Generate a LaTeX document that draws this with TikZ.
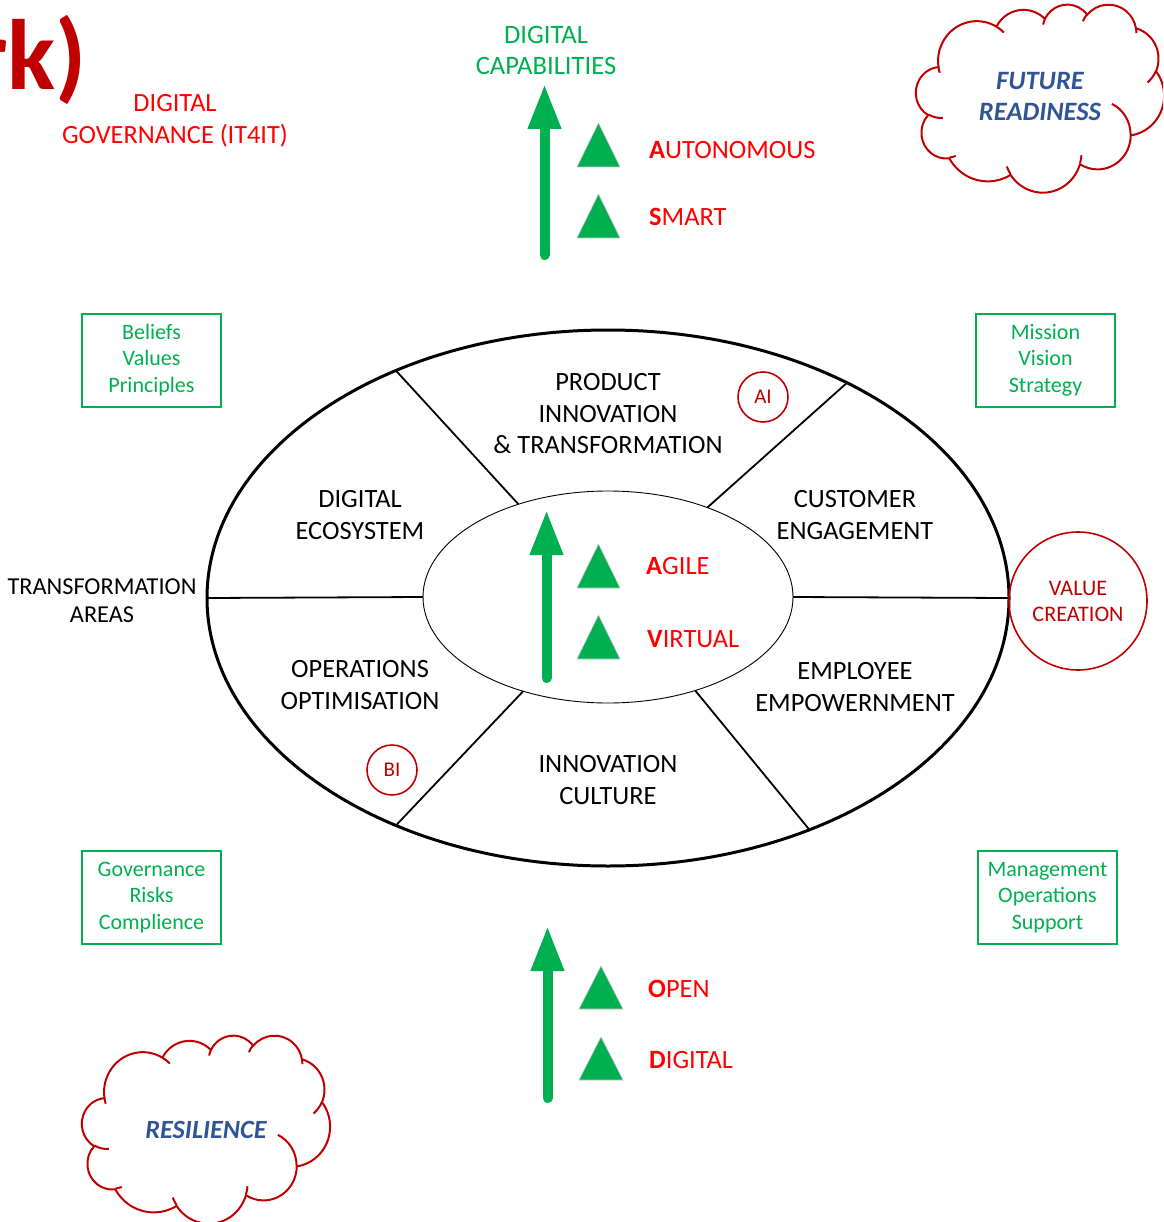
\documentclass[tikz,border=0pt]{standalone}
\usepackage{fontspec}
\setmainfont{Carlito}
\usetikzlibrary{arrows.meta,shapes.geometric}

\definecolor{gr}{HTML}{00B050}
\definecolor{dred}{HTML}{C00000}
\definecolor{brd}{HTML}{FF0000}
\definecolor{cblue}{HTML}{2F5597}

\newcommand\fsz[2]{\fontsize{#1}{#2}\selectfont}

% scale of the cloud outline (path space 432 x 432 -> 248 x 188)
\def\csx{0.57407}
\def\csy{0.43519}

\tikzset{
  lbl/.style={align=center, inner sep=0, text=black, font=\fsz{26.4}{31.5}},
  gbox/.style={draw=gr, line width=2pt, text=gr, align=center, inner sep=0,
    minimum width=139pt, minimum height=93pt, font=\fsz{22}{26.5}},
  ring/.style={circle, draw=dred, line width=1.6pt, text=dred, inner sep=0,
    minimum size=50pt, font=\fsz{21}{24}},
  level/.style={anchor=base west, inner sep=0, text=brd, font=\fsz{26.4}{30}},
  tri/.style={fill=gr, draw=black!22, line width=0.6pt},
  uparrow/.style={draw=gr, line width=10pt, line cap=round,
    -{Triangle[length=45pt, width=31pt]}},
  spoke/.style={draw=black, line width=1.8pt},
  cloudline/.style={draw=dred, line width=2pt, line join=round},
  % elliptic arc given by radii and visual start/sweep angles (y pointing down)
  ooarc/.style n args={4}{
    x radius={#1*\csx*1pt}, y radius={#2*\csy*1pt},
    start angle={-atan2(#1*sin(#3),#2*cos(#3))},
    delta angle={-mod(atan2(#1*sin(#3+#4),#2*cos(#3+#4))-atan2(#1*sin(#3),#2*cos(#3))+720,360)}}
}

% cloud outline with its inner folds; #1,#2 = top left corner
\newcommand\cloudat[2]{%
  \draw[cloudline] ({#1+39.00*\csx},{#2+143.70*\csy})
    arc[ooarc={67.53}{91.90}{-190.4875}{123.7805}]
    arc[ooarc={53.33}{72.67}{-144.1024}{89.9452}]
    arc[ooarc={43.65}{59.45}{-145.8079}{99.7230}]
    arc[ooarc={48.57}{65.95}{-130.9861}{117.2417}]
    arc[ooarc={53.33}{72.73}{-78.7089}{109.0269}]
    arc[ooarc={67.75}{92.20}{-46.2673}{130.2690}]
    arc[ooarc={57.85}{78.67}{0.6250}{114.0333}]
    arc[ooarc={67.52}{92.15}{22.4516}{115.1726}]
    arc[ooarc={77.20}{105.43}{66.2426}{75.7110}]
    arc[ooarc={43.60}{59.18}{-274.9421}{146.7356}]
    arc[ooarc={43.45}{59.45}{-246.8285}{152.5189}] -- cycle;
  \draw[cloudline]
    ({#1+46.93*\csx},{#2+261.77*\csy}) arc[ooarc={43.45}{59.45}{86.7420}{26.4295}]
    ({#1+69.28*\csx},{#2+348.99*\csy}) arc[ooarc={43.60}{59.18}{73.6105}{11.4475}]
    ({#1+164.78*\csx},{#2+390.90*\csy}) arc[ooarc={67.52}{92.15}{137.6242}{14.0811}]
    ({#1+288.27*\csx},{#2+347.51*\csy}) arc[ooarc={67.52}{92.15}{6.4533}{15.9984}]
    ({#1+341.29*\csx},{#2+229.54*\csy}) arc[ooarc={57.85}{78.67}{-70.2924}{70.9174}]
    ({#1+417.98*\csx},{#2+153.54*\csy}) arc[ooarc={53.33}{72.73}{30.3180}{27.7515}]
    ({#1+383.24*\csx},{#2+54.26*\csy}) arc[ooarc={48.57}{65.95}{-13.7443}{14.8589}]
    ({#1+290.78*\csx},{#2+39.52*\csy}) arc[ooarc={48.57}{65.95}{-149.1815}{18.1954}]
    ({#1+221.41*\csx},{#2+47.20*\csy}) arc[ooarc={43.65}{59.45}{-163.4943}{17.6864}]
    ({#1+140.00*\csx},{#2+51.92*\csy}) arc[ooarc={67.53}{91.90}{-66.7070}{12.3194}]
    ({#1+41.27*\csx},{#2+157.89*\csy}) arc[ooarc={67.53}{91.90}{157.6544}{11.8582}];
}

\begin{document}
\begin{tikzpicture}[x=1pt, y=-1pt]
\path[use as bounding box, clip] (0,0) rectangle (1163,1222);
\fill[white] (0,0) rectangle (1163,1222);

% title fragment
\node[anchor=base east, inner sep=0, text=dred, font=\fsz{100}{100}\bfseries] (brand) at (87,90) {rk)};

% top labels
\node[lbl, text=brd, font=\fsz{26.3}{32}] (gov) at (175,121) {DIGITAL\\GOVERNANCE (IT4IT)};
\node[lbl, text=gr, font=\fsz{26.6}{31}] (caps) at (546,50) {DIGITAL\\CAPABILITIES};

% clouds
\cloudat{916}{4}
\node[lbl, text=cblue, font=\fsz{26.5}{31}\bfseries\itshape] (future) at (1040,97) {FUTURE\\READINESS};
\cloudat{82}{1035}
\node[lbl, text=cblue, font=\fsz{26.3}{31}\bfseries\itshape] (resil) at (206,1130) {RESILIENCE};

% green boxes
\node[gbox] (bvp) at (151.5,360) {Beliefs\\Values\\Principles};
\node[gbox] (mvs) at (1045.5,360) {Mission\\Vision\\Strategy};
\node[gbox] (grc) at (151.5,897.5) {Governance\\Risks\\Complience};
\node[gbox] (mos) at (1047.5,897.5) {Management\\Operations\\Support};

% the wheel of transformation areas
\node[ellipse, draw, line width=3pt, minimum width=802pt, minimum height=536pt,
      inner sep=0, outer sep=0] (outer) at (608,598) {};
\node[ellipse, draw, line width=0.9pt, minimum width=370pt, minimum height=212pt,
      inner sep=0, outer sep=0] (inner) at (608,597) {};
\draw[spoke] (outer.180) -- (inner.180);
\draw[spoke] (outer.0) -- (inner.0);
\draw[spoke] (outer.133.7) -- (inner.134.4);
\draw[spoke] (outer.42.3) -- (inner.42);
\draw[spoke] (outer.227.6) -- (inner.228.8);
\draw[spoke] (outer.311.6) -- (inner.313.5);

\node[lbl] (prod) at (608,414) {PRODUCT\\INNOVATION\\\& TRANSFORMATION};
\node[lbl] (eco) at (360,515) {DIGITAL\\ECOSYSTEM};
\node[lbl] (cust) at (855,515) {CUSTOMER\\ENGAGEMENT};
\node[lbl] (ops) at (360,685) {OPERATIONS\\OPTIMISATION};
\node[lbl] (emp) at (855,687) {EMPLOYEE\\EMPOWERNMENT};
\node[lbl] (cult) at (608,780) {INNOVATION\\CULTURE};
\node[ring] (ai) at (763,397) {AI};
\node[ring] (bi) at (392,770) {BI};

\node[lbl, font=\fsz{24.3}{28}] (tarea) at (102,601) {TRANSFORMATION\\AREAS};
\node[circle, draw=dred, line width=1.6pt, minimum size=138pt, inner sep=0,
      text=dred, align=center, font=\fsz{22.2}{26}] (value) at (1078,601) {VALUE\\CREATION};

% capability arrows
\coordinate (topS) at (544.5,255);
\coordinate (topE) at (544.5,84);
\draw[uparrow] (topS) -- (topE);
\coordinate (midS) at (546.5,678);
\coordinate (midE) at (546.5,510);
\draw[uparrow] (midS) -- (midE);
\coordinate (botS) at (547.5,1098);
\coordinate (botE) at (547.5,926);
\draw[uparrow] (botS) -- (botE);

% level markers
\filldraw[tri] (577,167) -- (598.5,123) -- (620,167) -- cycle;
\filldraw[tri] (577,238) -- (598.5,194) -- (620,238) -- cycle;
\filldraw[tri] (577,588) -- (598.5,544) -- (620,588) -- cycle;
\filldraw[tri] (577,659) -- (598.5,615) -- (620,659) -- cycle;
\filldraw[tri] (579,1009) -- (601,966) -- (623,1009) -- cycle;
\filldraw[tri] (579,1080) -- (601,1037) -- (623,1080) -- cycle;

\node[level] (auto) at (649,159) {\textbf{A}UTONOMOUS};
\node[level] (smart) at (649,226) {\textbf{S}MART};
\node[level] (agile) at (646,574) {\textbf{A}GILE};
\node[level] (virt) at (647,647) {\textbf{V}IRTUAL};
\node[level] (open) at (648,997) {\textbf{O}PEN};
\node[level] (digi) at (649,1068) {\textbf{D}IGITAL};
\end{tikzpicture}
\end{document}
